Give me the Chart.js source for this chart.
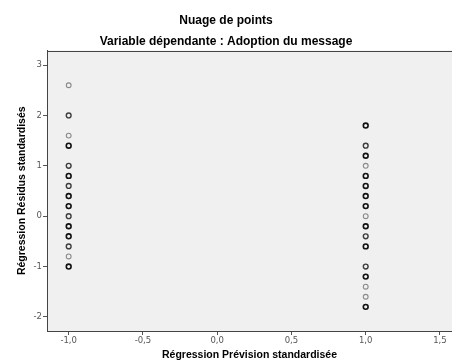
<!DOCTYPE html>
<html>
<head>
<meta charset="utf-8">
<script src="https://cdn.jsdelivr.net/npm/chart.js@4"></script>
<style>
  html, body { margin: 0; padding: 0; background: #ffffff; overflow: hidden; }
  #wrap { width: 452px; height: 362px; }
  canvas { display: block; }
</style>
</head>
<body>
<div id="wrap"><canvas id="c" width="452" height="362"></canvas></div>
<script>
// ---- data ----
const predictedLevels = [-1, 1];
const residualsAtMinus1 = [2.6, 2.0, 1.6, 1.4, 1.0, 0.8, 0.6, 0.4, 0.2, 0.0, -0.2, -0.4, -0.6, -0.8, -1.0];
const overlapAtMinus1   = [1,   2,   1,   3,   2,   3,   2,   3,   3,   2,   3,    3,    2,    1,    3];
const residualsAtPlus1  = [1.8, 1.4, 1.2, 1.0, 0.8, 0.6, 0.4, 0.2, 0.0, -0.2, -0.4, -0.6, -1.0, -1.2, -1.4, -1.6, -1.8];
const overlapAtPlus1    = [3,   2,   3,   1,   3,   3,   3,   3,   1,   3,    2,    3,    2,    3,    1,    1,    3];
const xTicks = [-1.0, -0.5, 0.0, 0.5, 1.0, 1.5];
const yTicks = [-2, -1, 0, 1, 2, 3];
const titleText = 'Nuage de points';
const subtitleText = 'Variable dépendante : Adoption du message';
const xTitle = 'Régression Prévision standardisée';
const yTitle = 'Régression Résidus standardisés';

// ---- styles ----
const levelColors = ['#8a8a8a', '#3e3e3e', '#111111'];
const levelWidths = [1.1, 1.4, 1.6];
const tickFont = { family: 'DejaVu Sans', size: 8.5 };
const titleFont = { family: 'Liberation Sans', size: 12, weight: 'bold' };
const axisTitleFont = { family: 'Liberation Sans', size: 10.5, weight: 'bold' };

function makeDataset(xv, ys, counts) {
  return {
    data: ys.map(y => ({ x: xv, y: y })),
    showLine: false,
    pointStyle: 'circle',
    pointRadius: 2.4,
    backgroundColor: 'rgba(0,0,0,0)',
    pointBorderWidth: ctx => levelWidths[counts[ctx.dataIndex] - 1],
    borderColor: ctx => levelColors[counts[ctx.dataIndex] - 1],
    pointBorderColor: ctx => levelColors[counts[ctx.dataIndex] - 1]
  };
}

const plotBg = {
  id: 'plotBg',
  beforeDraw(chart) {
    const { ctx, chartArea: a } = chart;
    ctx.save();
    ctx.fillStyle = '#f0f0f0';
    ctx.fillRect(a.left, a.top, a.right - a.left, a.bottom - a.top);
    ctx.strokeStyle = '#444444';
    ctx.lineWidth = 1;
    ctx.beginPath();
    ctx.moveTo(a.left, Math.round(a.top) + 0.5);
    ctx.lineTo(a.right, Math.round(a.top) + 0.5);
    ctx.stroke();
    ctx.restore();
  }
};

const fmt = v => Number(v).toFixed(1).replace('.', ',');

new Chart(document.getElementById('c'), {
  type: 'scatter',
  data: {
    datasets: [
      makeDataset(predictedLevels[0], residualsAtMinus1, overlapAtMinus1),
      makeDataset(predictedLevels[1], residualsAtPlus1, overlapAtPlus1)
    ]
  },
  options: {
    responsive: false,
    animation: false,
    layout: { autoPadding: false, padding: { left: 0, right: 0, top: 0, bottom: 0 } },
    plugins: {
      legend: { display: false },
      tooltip: { enabled: false },
      title: {
        display: true, text: titleText, font: titleFont, color: '#000',
        padding: { top: 13, bottom: 7.4 }
      },
      subtitle: {
        display: true, text: subtitleText, font: titleFont, color: '#000',
        padding: { top: 0, bottom: 1.3 }
      }
    },
    scales: {
      x: {
        type: 'linear',
        min: -1.146, max: 1.581,
        afterBuildTicks: s => { s.ticks = xTicks.map(v => ({ value: v })); },
        afterFit: s => { s.height = 31; s.paddingLeft = 0; s.paddingRight = 0; },
        grid: { drawOnChartArea: false, drawTicks: true, tickLength: 4, color: '#555555', lineWidth: 1 },
        border: { display: true, color: '#444444', width: 1 },
        ticks: { font: tickFont, color: '#555555', padding: 1, maxRotation: 0, autoSkip: false, callback: v => fmt(v) },
        title: { display: true, text: xTitle, font: axisTitleFont, color: '#000', padding: { top: 0, bottom: 0.3 } }
      },
      y: {
        type: 'linear',
        min: -2.28, max: 3.29,
        afterBuildTicks: s => { s.ticks = yTicks.map(v => ({ value: v })); },
        afterFit: s => { s.width = 47; s.paddingTop = 0; s.paddingBottom = 0; },
        grid: { drawOnChartArea: false, drawTicks: true, tickLength: 4, color: '#555555', lineWidth: 1 },
        border: { display: true, color: '#444444', width: 1 },
        ticks: { font: tickFont, color: '#555555', padding: 1, autoSkip: false, callback: v => String(v) },
        title: { display: true, text: yTitle, font: axisTitleFont, color: '#000', padding: { top: 15.5, bottom: 0 } }
      }
    }
  },
  plugins: [plotBg]
});
</script>
</body>
</html>
